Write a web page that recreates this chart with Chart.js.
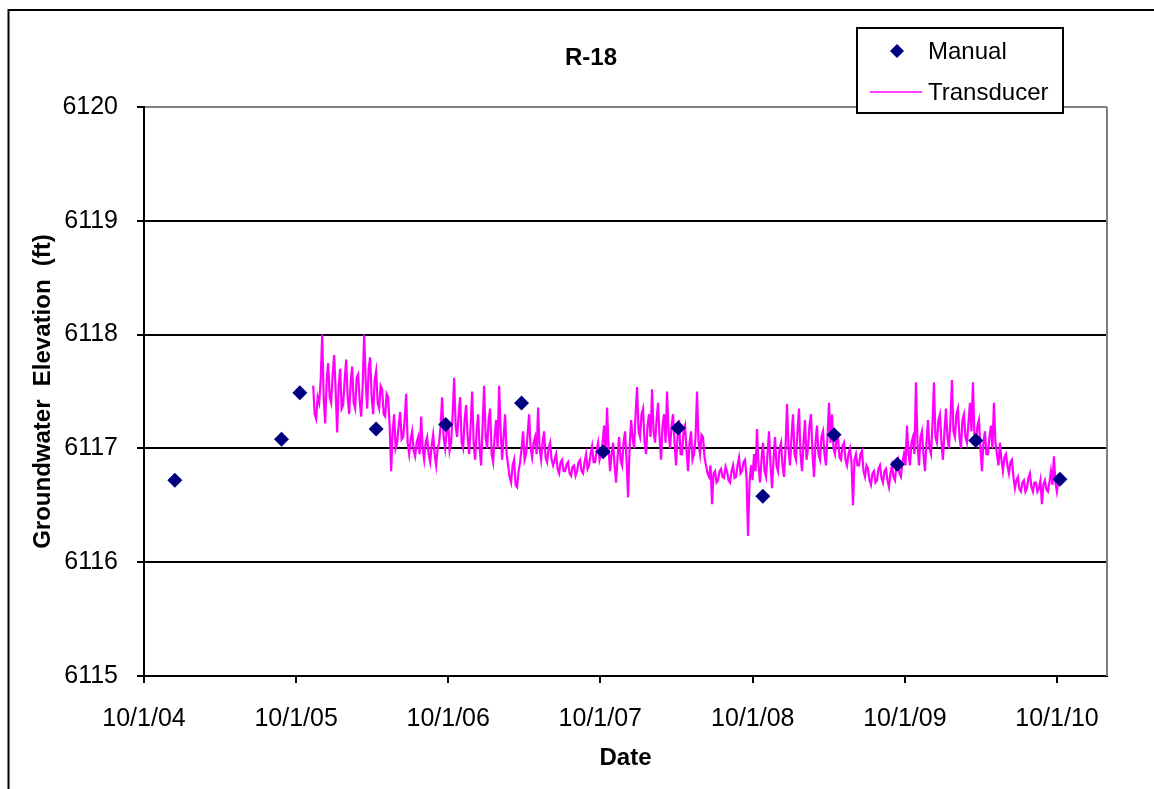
<!DOCTYPE html>
<html>
<head>
<meta charset="utf-8">
<script src="https://cdn.jsdelivr.net/npm/chart.js@4.4.1/dist/chart.umd.min.js"></script>
<style>
  html, body { margin: 0; padding: 0; background: #ffffff; }
  canvas { display: block; }
</style>
</head>
<body>
<canvas id="c" width="1154" height="789"></canvas>
<script>
// ---------------- DATA ----------------
const CHART_TITLE = 'R-18';
const X_TITLE = 'Date';
const Y_TITLE = 'Groundwater  Elevation  (ft)';

const X_TICK_DATES = ['2004-10-01', '2005-10-01', '2006-10-01', '2007-10-01', '2008-10-01', '2009-10-01', '2010-10-01'];
const X_TICK_LABELS = ['10/1/04', '10/1/05', '10/1/06', '10/1/07', '10/1/08', '10/1/09', '10/1/10'];
const X_MIN_DATE = '2004-10-01';
const X_MAX_DATE = '2011-01-29';
const Y_MIN = 6115;
const Y_MAX = 6120;

const MANUAL_DATES = ['2004-12-14', '2005-08-27', '2005-10-10', '2006-04-11', '2006-09-25', '2007-03-26', '2007-10-08',
                      '2008-04-05', '2008-10-25', '2009-04-14', '2009-09-13', '2010-03-20', '2010-10-08'];
const MANUAL_VALUES = [6116.72, 6117.08, 6117.49, 6117.17, 6117.21, 6117.40, 6116.97,
                       6117.18, 6116.58, 6117.12, 6116.86, 6117.07, 6116.73];

// Transducer record, regularly sampled between these two dates
const TRANSDUCER_START = '2005-11-11';
const TRANSDUCER_END = '2010-10-08';
const TRANSDUCER_VALUES = [
  6117.55, 6117.30, 6117.26, 6117.45, 6117.40, 6117.60, 6118.00, 6117.45, 6117.22, 6117.60,
  6117.75, 6117.45, 6117.40, 6117.65, 6117.82, 6117.50, 6117.14, 6117.55, 6117.70, 6117.35,
  6117.38, 6117.60, 6117.78, 6117.45, 6117.30, 6117.58, 6117.72, 6117.40, 6117.35, 6117.62,
  6117.65, 6117.42, 6117.28, 6117.55, 6118.00, 6117.60, 6117.35, 6117.70, 6117.80, 6117.45,
  6117.30, 6117.60, 6117.68, 6117.40, 6117.35, 6117.55, 6117.52, 6117.30, 6117.28, 6117.48,
  6117.45, 6117.20, 6116.80, 6117.15, 6117.30, 6117.00, 6117.05, 6117.20, 6117.32, 6117.08,
  6117.10, 6117.25, 6117.48, 6117.05, 6116.95, 6117.08, 6117.15, 6116.98, 6116.93, 6117.05,
  6117.10, 6116.95, 6117.28, 6117.00, 6116.90, 6117.05, 6117.10, 6116.95, 6116.88, 6117.02,
  6117.12, 6116.95, 6116.85, 6117.00, 6117.05, 6117.20, 6117.45, 6117.10, 6117.00, 6117.15,
  6117.25, 6116.98, 6117.05, 6117.30, 6117.62, 6117.20, 6117.10, 6117.30, 6117.45, 6117.05,
  6117.00, 6117.25, 6117.38, 6117.10, 6116.95, 6117.20, 6117.50, 6117.05, 6116.90, 6117.15,
  6117.30, 6117.00, 6116.85, 6117.20, 6117.55, 6117.10, 6117.00, 6117.25, 6117.35, 6116.95,
  6116.88, 6117.10, 6117.25, 6117.00, 6117.55, 6117.15, 6116.90, 6117.10, 6117.30, 6116.95,
  6116.85, 6116.75, 6116.70, 6116.85, 6116.90, 6116.68, 6116.66, 6116.80, 6116.88, 6117.00,
  6117.15, 6116.90, 6116.95, 6117.12, 6117.30, 6117.00, 6116.92, 6117.05, 6117.10, 6116.95,
  6117.36, 6117.00, 6116.90, 6117.05, 6117.15, 6116.92, 6116.88, 6117.00, 6117.05, 6116.90,
  6116.85, 6116.90, 6116.95, 6116.82, 6116.78, 6116.88, 6116.90, 6116.80, 6116.80, 6116.86,
  6116.88, 6116.78, 6116.76, 6116.84, 6116.85, 6116.76, 6116.80, 6116.88, 6116.90, 6116.80,
  6116.78, 6116.88, 6116.95, 6116.82, 6116.85, 6116.95, 6117.02, 6116.88, 6116.88, 6116.98,
  6117.05, 6116.90, 6116.95, 6117.05, 6117.20, 6116.95, 6117.36, 6117.00, 6116.80, 6116.95,
  6117.05, 6116.85, 6116.70, 6116.92, 6117.10, 6116.90, 6116.85, 6117.05, 6117.15, 6116.90,
  6116.57, 6117.00, 6117.25, 6117.10, 6117.00, 6117.30, 6117.54, 6117.15, 6117.10, 6117.30,
  6117.35, 6117.05, 6116.95, 6117.20, 6117.30, 6117.10, 6117.52, 6117.15, 6117.05, 6117.25,
  6117.40, 6117.10, 6116.90, 6117.20, 6117.30, 6117.05, 6117.50, 6117.15, 6117.00, 6117.20,
  6117.30, 6117.05, 6116.85, 6117.10, 6117.25, 6116.95, 6116.95, 6117.15, 6117.20, 6116.98,
  6116.80, 6117.05, 6117.15, 6116.90, 6116.95, 6117.10, 6117.50, 6117.05, 6116.95, 6117.12,
  6117.10, 6116.92, 6116.85, 6116.78, 6116.75, 6116.85, 6116.51, 6116.78, 6116.80, 6116.70,
  6116.72, 6116.80, 6116.82, 6116.75, 6116.74, 6116.84, 6116.80, 6116.72, 6116.70, 6116.80,
  6116.85, 6116.74, 6116.75, 6116.85, 6116.92, 6116.78, 6116.80, 6116.88, 6116.90, 6116.75,
  6116.23, 6116.70, 6116.85, 6116.72, 6116.95, 6116.80, 6117.17, 6116.85, 6116.70, 6116.90,
  6117.05, 6116.80, 6116.75, 6116.95, 6117.15, 6116.85, 6116.65, 6116.90, 6117.10, 6116.85,
  6116.80, 6117.00, 6117.05, 6116.85, 6116.75, 6117.00, 6117.39, 6117.00, 6116.85, 6117.10,
  6117.30, 6116.95, 6116.90, 6117.15, 6117.35, 6116.95, 6116.80, 6117.05, 6117.25, 6116.90,
  6117.00, 6117.20, 6117.30, 6116.95, 6116.75, 6117.05, 6117.20, 6116.95, 6116.90, 6117.10,
  6117.15, 6116.95, 6116.85, 6117.10, 6117.40, 6117.05, 6117.30, 6117.00, 6116.95, 6117.08,
  6117.10, 6116.92, 6116.90, 6117.02, 6117.05, 6116.90, 6116.85, 6116.95, 6117.00, 6116.88,
  6116.50, 6116.90, 6116.95, 6116.85, 6116.85, 6116.95, 6116.98, 6116.80, 6116.75, 6116.85,
  6116.82, 6116.72, 6116.68, 6116.78, 6116.80, 6116.70, 6116.72, 6116.82, 6116.85, 6116.74,
  6116.70, 6116.80, 6116.82, 6116.72, 6116.66, 6116.78, 6116.85, 6116.75, 6116.72, 6116.86,
  6116.90, 6116.78, 6116.75, 6116.88, 6116.95, 6116.85, 6117.20, 6116.95, 6116.85, 6117.05,
  6117.10, 6116.95, 6117.58, 6117.05, 6116.85, 6117.10, 6117.15, 6116.95, 6116.80, 6117.05,
  6117.25, 6117.00, 6116.95, 6117.20, 6117.58, 6117.10, 6117.05, 6117.25, 6117.30, 6117.05,
  6116.90, 6117.15, 6117.35, 6117.10, 6117.00, 6117.25, 6117.60, 6117.15, 6117.10, 6117.30,
  6117.35, 6117.10, 6117.00, 6117.25, 6117.30, 6117.10, 6117.05, 6117.22, 6117.40, 6117.15,
  6117.58, 6117.10, 6117.05, 6117.20, 6117.25, 6117.00, 6116.80, 6117.05, 6117.15, 6116.95,
  6116.95, 6117.10, 6117.20, 6117.00, 6117.40, 6117.05, 6116.95, 6116.85, 6117.05, 6116.90,
  6116.80, 6116.92, 6116.95, 6116.85, 6116.78, 6116.88, 6116.90, 6116.75, 6116.65, 6116.72,
  6116.75, 6116.64, 6116.62, 6116.70, 6116.72, 6116.62, 6116.65, 6116.74, 6116.78, 6116.66,
  6116.62, 6116.70, 6116.70, 6116.62, 6116.65, 6116.72, 6116.51, 6116.68, 6116.72, 6116.64,
  6116.62, 6116.70, 6116.80, 6116.68, 6116.93, 6116.70, 6116.62, 6116.72, 6116.75
];

// ---------------- BUILD ----------------
function ms(s) { const p = s.split('-').map(Number); return Date.UTC(p[0], p[1] - 1, p[2]); }

const manualPoints = MANUAL_DATES.map((d, i) => ({ x: ms(d), y: MANUAL_VALUES[i] }));
const tStart = ms(TRANSDUCER_START), tEnd = ms(TRANSDUCER_END);
const tStep = (tEnd - tStart) / (TRANSDUCER_VALUES.length - 1);
const transducerPoints = TRANSDUCER_VALUES.map((v, i) => ({ x: tStart + i * tStep, y: v }));
const tickValues = X_TICK_DATES.map(ms);

const FONT = '"Liberation Sans", Arial, sans-serif';
const NAVY = '#000080';
const MAGENTA = '#FF00FF';

const framePlugin = {
  id: 'frame',
  beforeDraw(chart) {
    const ctx = chart.ctx;
    ctx.save();
    ctx.fillStyle = '#ffffff';
    ctx.fillRect(0, 0, chart.width, chart.height);
    ctx.restore();
  },
  afterDraw(chart) {
    const ctx = chart.ctx;
    const a = chart.chartArea;
    ctx.save();
    // outer chart border (cut by the image at right and bottom)
    ctx.strokeStyle = '#000';
    ctx.lineWidth = 2;
    ctx.beginPath();
    ctx.moveTo(8.5, chart.height + 2);
    ctx.lineTo(8.5, 10);
    ctx.lineTo(chart.width + 2, 10);
    ctx.stroke();
    // plot area right border (gray)
    ctx.strokeStyle = '#808080';
    ctx.beginPath();
    ctx.moveTo(a.right, a.top);
    ctx.lineTo(a.right, a.bottom);
    ctx.stroke();
    // title
    ctx.fillStyle = '#000';
    ctx.font = 'bold 24px ' + FONT;
    ctx.textAlign = 'center';
    ctx.textBaseline = 'middle';
    ctx.fillText(CHART_TITLE, 591, 58);
    // legend box
    const lx = 857, ly = 28, lw = 206, lh = 85;
    ctx.fillStyle = '#fff';
    ctx.fillRect(lx, ly, lw, lh);
    ctx.strokeStyle = '#000';
    ctx.lineWidth = 2;
    ctx.strokeRect(lx, ly, lw, lh);
    const ds = chart.data.datasets;
    // Manual entry
    ctx.fillStyle = ds[0].backgroundColor;
    ctx.beginPath();
    ctx.moveTo(897, 44); ctx.lineTo(904, 51); ctx.lineTo(897, 58); ctx.lineTo(890, 51); ctx.closePath();
    ctx.fill();
    // Transducer entry
    ctx.strokeStyle = ds[1].borderColor;
    ctx.lineWidth = 1.5;
    ctx.beginPath();
    ctx.moveTo(870, 92); ctx.lineTo(922, 92);
    ctx.stroke();
    ctx.fillStyle = '#000';
    ctx.font = '24px ' + FONT;
    ctx.textAlign = 'left';
    ctx.textBaseline = 'middle';
    ctx.fillText(ds[0].label, 928, 52);
    ctx.fillText(ds[1].label, 928, 93);
    ctx.restore();
  }
};

new Chart(document.getElementById('c'), {
  type: 'line',
  data: {
    datasets: [
      {
        label: 'Manual',
        data: manualPoints,
        showLine: false,
        pointStyle: 'rectRot',
        pointRadius: 7.5,
        pointHoverRadius: 7.5,
        backgroundColor: NAVY,
        borderColor: NAVY,
        pointBorderWidth: 0
      },
      {
        label: 'Transducer',
        data: transducerPoints,
        borderColor: MAGENTA,
        backgroundColor: MAGENTA,
        borderWidth: 2.2,
        pointRadius: 0,
        tension: 0,
        fill: false
      }
    ]
  },
  options: {
    responsive: false,
    animation: false,
    devicePixelRatio: 1,
    layout: { padding: { top: 107, right: 47, left: 0, bottom: 0 } },
    plugins: {
      legend: { display: false },
      title: { display: false },
      tooltip: { enabled: false }
    },
    scales: {
      x: {
        type: 'linear',
        min: ms(X_MIN_DATE),
        max: ms(X_MAX_DATE),
        afterBuildTicks(scale) { scale.ticks = tickValues.map(v => ({ value: v })); },
        afterFit(scale) { scale.height = 113; },
        grid: { drawOnChartArea: false, drawTicks: true, tickLength: 7, color: '#000', lineWidth: 2 },
        border: { display: true, color: '#000', width: 2 },
        ticks: {
          color: '#000',
          font: { family: FONT, size: 25 },
          padding: 21,
          maxRotation: 0,
          autoSkip: false,
          callback(value) { const i = tickValues.indexOf(value); return i >= 0 ? X_TICK_LABELS[i] : ''; }
        },
        title: {
          display: true,
          text: X_TITLE,
          color: '#000',
          font: { family: FONT, size: 24, weight: 'bold' },
          padding: { top: 0, bottom: 16 }
        }
      },
      y: {
        type: 'linear',
        min: Y_MIN,
        max: Y_MAX,
        afterFit(scale) { scale.width = 144; },
        grid: {
          drawOnChartArea: true,
          drawTicks: true,
          tickLength: 7,
          lineWidth: 2,
          color(ctx) { return ctx.tick && ctx.tick.value === Y_MAX ? '#808080' : '#000'; },
          tickColor: '#000'
        },
        border: { display: true, color: '#000', width: 2 },
        ticks: {
          stepSize: 1,
          color: '#000',
          font: { family: FONT, size: 25 },
          padding: 19,
          callback(value) { return String(value); }
        },
        title: {
          display: true,
          text: Y_TITLE,
          color: '#000',
          font: { family: FONT, size: 24, weight: 'bold' },
          padding: { top: 29, bottom: 0 }
        }
      }
    }
  },
  plugins: [framePlugin]
});
</script>
</body>
</html>
